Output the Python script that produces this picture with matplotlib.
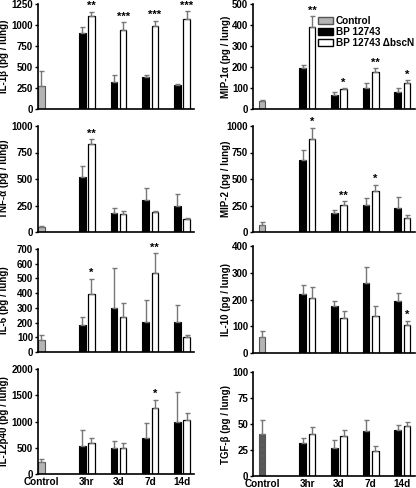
import matplotlib
matplotlib.use('Agg')
import matplotlib.pyplot as plt
from matplotlib.patches import Patch
import numpy as np

plt.rcParams['font.family'] = ['Liberation Sans', 'DejaVu Sans']
plt.rcParams['font.weight'] = 'bold'

groups = ['Control', '3hr', '3d', '7d', '14d']

# mean values and upper error (SEM)
il1b_ctrl, il1b_ctrl_err = 270, 185
il1b_wt = [905, 325, 380, 280]
il1b_wt_err = [70, 85, 30, 15]
il1b_mut = [1110, 935, 990, 1075]
il1b_mut_err = [50, 100, 60, 90]
il1b_stars = ['**', '***', '***', '***']

mip1a_ctrl, mip1a_ctrl_err = 38, 3
mip1a_wt = [193, 69, 98, 80]
mip1a_wt_err = [16, 11, 25, 20]
mip1a_mut = [390, 96, 175, 125]
mip1a_mut_err = [51, 3, 18, 12]
mip1a_stars = ['**', '*', '**', '*']

tnfa_ctrl, tnfa_ctrl_err = 44, 12
tnfa_wt = [520, 182, 298, 245]
tnfa_wt_err = [107, 41, 119, 112]
tnfa_mut = [834, 172, 188, 122]
tnfa_mut_err = [41, 25, 12, 10]
tnfa_stars = ['**', '', '', '']

mip2_ctrl, mip2_ctrl_err = 69, 22
mip2_wt = [676, 182, 258, 226]
mip2_wt_err = [101, 29, 63, 104]
mip2_mut = [874, 258, 384, 132]
mip2_mut_err = [110, 31, 63, 25]
mip2_stars = ['*', '**', '*', '']

il6_ctrl, il6_ctrl_err = 81, 34
il6_wt = [181, 298, 201, 205]
il6_wt_err = [58, 275, 151, 113]
il6_mut = [395, 241, 535, 104]
il6_mut_err = [104, 89, 135, 11]
il6_stars = ['*', '', '**', '']

il10_ctrl, il10_ctrl_err = 58, 26
il10_wt = [222, 175, 260, 195]
il10_wt_err = [32, 19, 60, 31]
il10_mut = [207, 131, 137, 106]
il10_mut_err = [38, 25, 37, 15]
il10_stars = ['', '', '', '*']

il12_ctrl, il12_ctrl_err = 234, 51
il12_wt = [532, 494, 677, 981]
il12_wt_err = [303, 133, 298, 582]
il12_mut = [595, 500, 1266, 1025]
il12_mut_err = [89, 95, 152, 140]
il12_stars = ['', '', '*', '']

tgfb_ctrl, tgfb_ctrl_err = 40.6, 13.3
tgfb_wt = [32, 27, 43.2, 43.9]
tgfb_wt_err = [4.8, 7.2, 10.3, 5.5]
tgfb_mut = [40.3, 38.4, 24.5, 48]
tgfb_mut_err = [7.1, 5.8, 4.5, 4.3]
tgfb_stars = ['', '', '', '']

W, H = 416, 488
fig = plt.figure(figsize=(W / 100, H / 100), dpi=100)

xpos = np.array([1.43, 2.43, 3.43, 4.43])
bw = 0.21
off = 0.145
errc = '#777777'


def panel(px, ytop, yzero, xlim, ylabel, ymax, step,
          ctrl, ctrl_err, wt, wt_err, mut, mut_err, stars,
          xlabels=False, ctrl_color='#b4b4b4', ctrl_hatch=None, lab_x=-0.183):
    left, right = px
    ax = fig.add_axes([left / W, 1 - yzero / H, (right - left) / W, (yzero - ytop) / H])
    ax.bar(0, ctrl, bw, color=ctrl_color, edgecolor='#555555', linewidth=0.8,
           hatch=ctrl_hatch)
    ax.errorbar(0, ctrl, yerr=[[0], [ctrl_err]], fmt='none', ecolor=errc,
                elinewidth=1, capsize=1.8, capthick=1)
    ax.bar(xpos - off, wt, bw, color='black', edgecolor='black', linewidth=0.8)
    ax.errorbar(xpos - off, wt, yerr=[np.zeros(4), wt_err], fmt='none', ecolor=errc,
                elinewidth=1, capsize=1.8, capthick=1)
    ax.bar(xpos + off, mut, bw, color='white', edgecolor='black', linewidth=0.9)
    ax.errorbar(xpos + off, mut, yerr=[np.zeros(4), mut_err], fmt='none', ecolor=errc,
                elinewidth=1, capsize=1.8, capthick=1)
    for i, s in enumerate(stars):
        if s:
            ax.text(xpos[i] + off, mut[i] + mut_err[i] + ymax * 0.005, s,
                    ha='center', va='bottom', fontsize=8, fontweight='bold',
                    clip_on=False)
    ax.set_xlim(*xlim)
    ax.set_ylim(0, ymax)
    ax.set_yticks(np.arange(0, ymax + step / 2, step))
    ax.tick_params(axis='y', length=2.5, width=1, pad=1, labelsize=7)
    ax.tick_params(axis='x', length=0, pad=2, labelsize=7.2)
    if xlabels:
        ax.set_xticks(np.concatenate([[0], xpos]))
        ax.set_xticklabels(groups, fontweight='bold')
    else:
        ax.set_xticks([])
    for t in ax.get_yticklabels():
        t.set_fontweight('bold')
    for sp in ['top', 'right']:
        ax.spines[sp].set_visible(False)
    for sp in ['left', 'bottom']:
        ax.spines[sp].set_linewidth(1.2)
    ax.set_ylabel(ylabel, fontsize=7, fontweight='bold')
    ax.yaxis.set_label_coords(lab_x, 0.5)
    return ax


L = (38, 194)
R = (253, 415)
xl = (-0.11, 4.81)
xr = (-0.284, 4.83)

panel(L, 4, 109, xl, 'IL-1β (pg / lung)', 1250, 250,
      il1b_ctrl, il1b_ctrl_err, il1b_wt, il1b_wt_err, il1b_mut, il1b_mut_err, il1b_stars)
panel(L, 126, 232, xl, 'TNF-α (pg / lung)', 1000, 250,
      tnfa_ctrl, tnfa_ctrl_err, tnfa_wt, tnfa_wt_err, tnfa_mut, tnfa_mut_err, tnfa_stars)
panel(L, 249, 352, xl, 'IL-6 (pg / lung)', 700, 100,
      il6_ctrl, il6_ctrl_err, il6_wt, il6_wt_err, il6_mut, il6_mut_err, il6_stars)
panel(L, 369, 474, xl, 'IL-12p40 (pg / lung)', 2000, 500,
      il12_ctrl, il12_ctrl_err, il12_wt, il12_wt_err, il12_mut, il12_mut_err, il12_stars,
      xlabels=True)

panel(R, 4, 109, xr, 'MIP-1α (pg / lung)', 500, 100,
      mip1a_ctrl, mip1a_ctrl_err, mip1a_wt, mip1a_wt_err, mip1a_mut, mip1a_mut_err,
      mip1a_stars, lab_x=-0.133)
panel(R, 126, 232, xr, 'MIP-2 (pg / lung)', 1000, 250,
      mip2_ctrl, mip2_ctrl_err, mip2_wt, mip2_wt_err, mip2_mut, mip2_mut_err,
      mip2_stars, lab_x=-0.133)
panel(R, 246, 353, xr, 'IL-10 (pg / lung)', 400, 100,
      il10_ctrl, il10_ctrl_err, il10_wt, il10_wt_err, il10_mut, il10_mut_err,
      il10_stars, lab_x=-0.133)
panel(R, 372, 476, xr, 'TGF-β (pg / lung)', 100, 25,
      tgfb_ctrl, tgfb_ctrl_err, tgfb_wt, tgfb_wt_err, tgfb_mut, tgfb_mut_err,
      tgfb_stars, xlabels=True, ctrl_color='#5a5a5a', ctrl_hatch='---', lab_x=-0.133)

handles = [Patch(facecolor='#b4b4b4', edgecolor='#555555'),
           Patch(facecolor='black', edgecolor='black'),
           Patch(facecolor='white', edgecolor='black')]
fig.legend(handles, ['Control', 'BP 12743', 'BP 12743 ΔbscN'],
           loc='upper left', bbox_to_anchor=(318 / W, 1 - 16 / H),
           frameon=False, borderpad=0, borderaxespad=0, handlelength=1.45,
           handleheight=0.6, handletextpad=0.3, labelspacing=0.1,
           prop={'size': 7.2, 'weight': 'bold'})

fig.savefig('out.png', dpi=100)
